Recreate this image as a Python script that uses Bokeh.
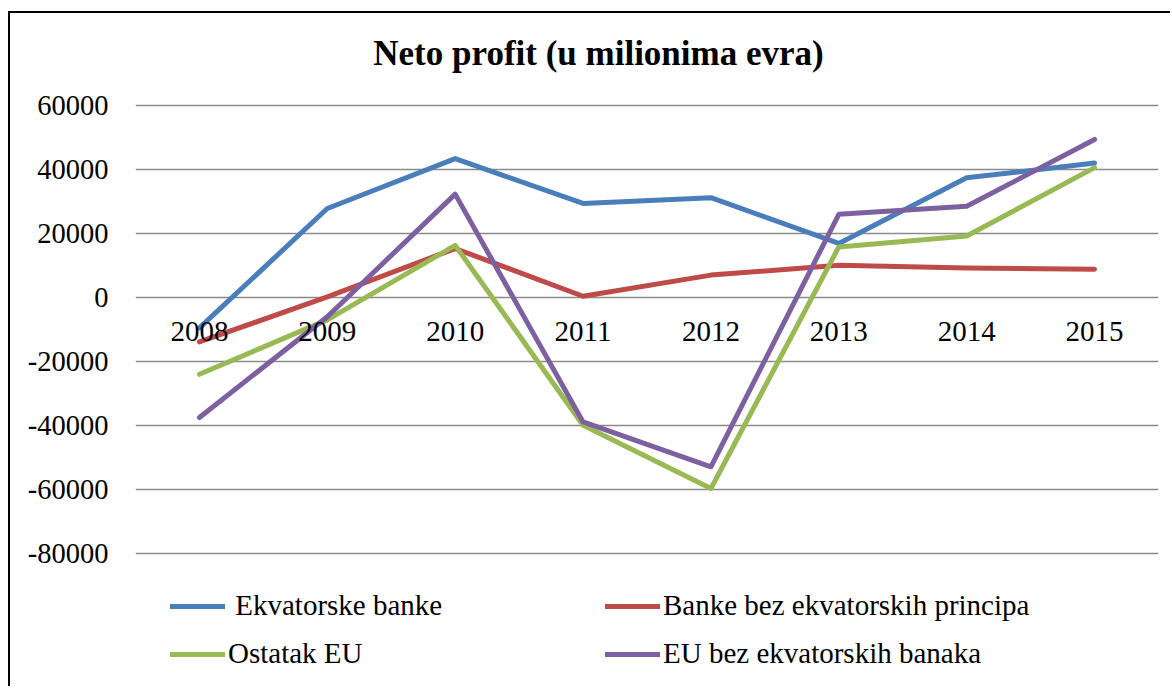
from bokeh.plotting import figure
from bokeh.models import (FactorRange, Range1d, FixedTicker, PrintfTickFormatter,
                          Legend, LegendItem, Label, ColumnDataSource)
from bokeh.core.properties import value
from bokeh.embed import file_html
from bokeh.resources import INLINE

# ---- data (millions of EUR) ----
years = ["2008", "2009", "2010", "2011", "2012", "2013", "2014", "2015"]
ekvatorske_banke = [-9500, 27800, 43400, 29400, 31200, 16900, 37400, 42000]
banke_bez_ekv = [-13900, 200, 15300, 400, 7000, 10100, 9200, 8800]
ostatak_eu = [-24000, -7000, 16300, -39900, -59700, 15800, 19200, 40600]
eu_bez_ekv = [-37500, -6000, 32300, -38900, -52900, 26000, 28500, 49400]
y_ticks = [-80000, -60000, -40000, -20000, 0, 20000, 40000, 60000]
zeros = [0] * len(years)

title_text = "Neto profit (u milionima evra)"
labels = [" Ekvatorske banke", "Banke bez ekvatorskih principa",
          "Ostatak EU", "EU bez ekvatorskih banaka"]
colors = ["#4A7EBB", "#BE4B48", "#98B954", "#7D60A0"]

FONT = "Liberation Serif"

W, H = 1162, 675
# frame spans the full canvas height; the value window is padded so the
# title and legend areas above/below the grid have room (3.2 px per 1000)
Y_TOP, Y_BOTTOM = 88750, -122187.5

p = figure(x_range=FactorRange(factors=years), y_range=Range1d(Y_BOTTOM, Y_TOP),
           width=W, height=H, output_backend="svg", toolbar_location=None,
           x_axis_location=None, title_location=None,
           min_border_left=125, min_border_right=14, min_border_top=0,
           min_border_bottom=0)
p.styles = {"border-left": "2px solid black", "border-top": "2px solid black"}
p.margin = (11, 0, 0, 8)
p.outline_line_color = None
p.background_fill_color = "white"
p.border_fill_color = "white"

p.xgrid.visible = False

yax = p.yaxis[0]
yax.ticker = FixedTicker(ticks=y_ticks)
yax.formatter = PrintfTickFormatter(format="%d")
yax.axis_line_color = None
yax.major_tick_line_color = None
yax.minor_tick_line_color = None
yax.major_tick_out = 0
yax.major_tick_in = 0
yax.major_label_standoff = 27
yax.major_label_text_font = FONT
yax.major_label_text_font_size = "28.5px"
yax.major_label_text_color = "black"

p.ygrid.ticker = FixedTicker(ticks=y_ticks)
p.ygrid.grid_line_color = "#8A8A8A"
p.ygrid.grid_line_width = 1.6

series = [ekvatorske_banke, banke_bez_ekv, ostatak_eu, eu_bez_ekv]
renderers = []
for vals, col in zip(series, colors):
    r = p.line(years, vals, line_color=col, line_width=5,
               line_join="round", line_cap="round")
    renderers.append(r)

# category labels sitting under the zero line
src = ColumnDataSource(dict(x=years, y=zeros, t=years))
p.text(x="x", y="y", text="t", source=src, text_align="center",
       text_baseline="alphabetic", y_offset=34,
       text_font=value(FONT), text_font_size="29px", text_color="black")

title = Label(x=463, y=635, x_units="screen", y_units="screen", text=title_text,
              text_align="center", text_baseline="alphabetic", text_font=FONT,
              text_font_style="bold", text_font_size="35px", text_color="black")
p.add_layout(title)

common = dict(orientation="vertical", glyph_width=55, glyph_height=32,
              label_height=32, label_standoff=3, spacing=15, padding=0, margin=0,
              border_line_color=None, background_fill_alpha=0,
              label_text_font=FONT, label_text_font_size="29px",
              label_text_color="black")
leg1 = Legend(items=[LegendItem(label=labels[0], renderers=[renderers[0]]),
                     LegendItem(label=labels[2], renderers=[renderers[2]])],
              location=(35, 18), **common)
leg2 = Legend(items=[LegendItem(label=labels[1], renderers=[renderers[1]]),
                     LegendItem(label=labels[3], renderers=[renderers[3]])],
              location=(470, 18), **common)
p.add_layout(leg1)
p.add_layout(leg2)

open("out.html", "w").write(file_html(p, INLINE))
